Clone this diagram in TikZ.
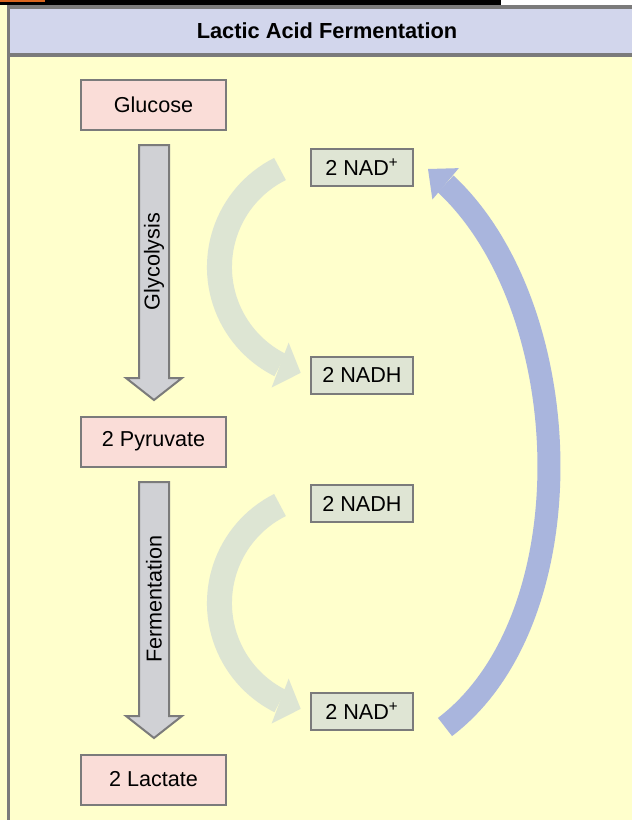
\documentclass[tikz,border=0pt]{standalone}
\usepackage{fontspec}
\setmainfont{Liberation Sans}
\usetikzlibrary{arrows.meta,bending}

\definecolor{paneyellow}{HTML}{FFFFCC}
\definecolor{headblue}{HTML}{D2D6EC}
\definecolor{framegray}{HTML}{7B7B7B}
\definecolor{sugarpink}{HTML}{FADDD8}
\definecolor{carrierfill}{HTML}{DFE5D4}
\definecolor{cyclegreen}{HTML}{DDE5D3}
\definecolor{returnblue}{HTML}{A9B5DD}
\definecolor{shaftgray}{HTML}{D0D1D5}
\definecolor{taborange}{HTML}{D9661F}

\begin{document}
\begin{tikzpicture}[x=0.5pt,y=-0.5pt]

    \useasboundingbox (0,0) rectangle (632,820);

    \tikzset{
        every node/.style={font=\fontsize{10.8}{13}\selectfont},
        sugar/.style={draw=framegray, line width=1pt, fill=sugarpink, minimum width=72.5pt, minimum height=25pt, inner sep=0pt},
        carrier/.style={draw=framegray, line width=1pt, fill=carrierfill, minimum width=51pt, minimum height=18.5pt, inner sep=0pt},
        blockarrow/.style={draw=framegray, line width=1pt, fill=shaftgray},
        recycle/.style={draw=cyclegreen, line width=12.5pt, -{Triangle[length=11pt, width=24pt, line width=0pt]}},
        backflow/.style={draw=returnblue, line width=11.5pt, -{Triangle[length=11.5pt, width=20.5pt, line width=0pt]}}
    }

    % page strip, panel and header
    \fill[white] (0,0) rectangle (632,5);
    \fill[black] (0,0) rectangle (501,5);
    \fill[taborange] (0,0) rectangle (45,1.5);
    \fill[paneyellow] (0,5) rectangle (632,820);
    \fill[headblue] (8.5,7) rectangle (632,55);
    \draw[framegray, line width=1.6pt] (8.5,820) -- (8.5,7) -- (632,7);
    \draw[framegray, line width=1.6pt] (8.5,55) -- (632,55);
    \node[font=\bfseries\fontsize{10.9}{13}\selectfont] (title) at (327,31) {Lactic Acid Fermentation};

    % main pathway arrows
    \foreach \top/\bot/\lab in {145/378/Glycolysis, 482/716/Fermentation} {
        \draw[blockarrow] (139,\top) -- (169,\top) -- (169,\bot) -- (182,\bot) -- (154,\bot+22) -- (126,\bot) -- (139,\bot) -- cycle;
        \node[rotate=90] (\lab) at (154,{(\top+\bot)/2}) {\lab};
    }

    % NAD+/NADH turnover
    \foreach \dy in {0, 336} {
        \coordinate (turn\dy) at (280,169+\dy);
        \draw[recycle] (turn\dy) arc[start angle=243.4, end angle=105, radius=109.6];
    }

    \coordinate (backstart) at (445,727);
    \coordinate (backend) at (428,169);
    \draw[backflow] (backstart) .. controls (594,614) and (578,282) .. (backend);

    % compounds
    \node[sugar] (glucose) at (153.5,104.5) {Glucose};
    \node[sugar] (pyruvate) at (153.5,441.5) {2 Pyruvate};
    \node[sugar] (lactate) at (153.5,779.5) {2 Lactate};

    \node[carrier] (nadA) at (362,167.5) {2 NAD\textsuperscript{+}};
    \node[carrier] (nadhA) at (362,375) {2 NADH};
    \node[carrier] (nadhB) at (362,503.5) {2 NADH};
    \node[carrier] (nadB) at (362,711.5) {2 NAD\textsuperscript{+}};

\end{tikzpicture}
\end{document}
